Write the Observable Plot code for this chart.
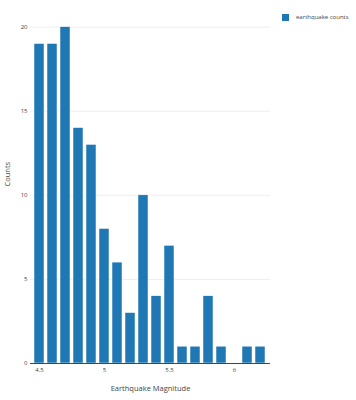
<!DOCTYPE html>
<html>
<head>
<meta charset="utf-8">
<script src="https://cdn.jsdelivr.net/npm/d3@7"></script>
<script src="https://cdn.jsdelivr.net/npm/@observablehq/plot@0.6"></script>
<style>
  html, body { margin: 0; padding: 0; background: #fff; }
  #wrap { position: relative; width: 356px; height: 400px; font-family: "Open Sans", sans-serif; }
  #legend { position: absolute; left: 282px; top: 13px; display: flex; align-items: center; font-size: 6px; color: #444; }
  #legend .sw { width: 7px; height: 7px; background: #1f77b4; margin-right: 7px; }
</style>
</head>
<body>
<div id="wrap">
  <div id="chart"></div>
  <div id="legend"><div class="sw"></div><span>earthquake counts</span></div>
</div>
<script>
const magnitudes = [4.5, 4.6, 4.7, 4.8, 4.9, 5.0, 5.1, 5.2, 5.3, 5.4, 5.5, 5.6, 5.7, 5.8, 5.9, 6.0, 6.1, 6.2];
const counts = [19, 19, 20, 14, 13, 8, 6, 3, 10, 4, 7, 1, 1, 4, 1, 0, 1, 1];
const xTicks = [4.5, 5, 5.5, 6];
const yTicks = [0, 5, 10, 15, 20];
const seriesName = "earthquake counts";

const data = magnitudes.map((m, i) => ({magnitude: m, count: counts[i], series: seriesName}));

const chart = Plot.plot({
  width: 356,
  height: 400,
  marginLeft: 30,
  marginRight: 86,
  marginTop: 9,
  marginBottom: 37,
  style: {fontFamily: "'Open Sans', sans-serif", color: "#444", background: "#fff"},
  x: {
    type: "band",
    domain: magnitudes,
    paddingInner: 0.2,
    paddingOuter: 0.1,
    ticks: xTicks,
    tickFormat: d => String(d),
    tickSize: 0,
    tickPadding: 4,
    label: null
  },
  y: {
    domain: [0, 21.05],
    ticks: yTicks,
    tickSize: 0,
    tickPadding: 3,
    label: null
  },
  marks: [
    Plot.gridY(yTicks.filter(d => d > 0), {stroke: "#eee", strokeOpacity: 1}),
    Plot.barY(data, {x: "magnitude", y: "count", fill: "#1f77b4", stroke: "#fff", strokeWidth: 0.5}),
    Plot.ruleY([0], {stroke: "#444", strokeWidth: 1}),
    Plot.axisX({ticks: xTicks, tickFormat: d => String(d), tickSize: 0, tickPadding: 4, fontSize: 6, fill: "#444", label: null}),
    Plot.axisY({ticks: yTicks, tickSize: 0, tickPadding: 3, fontSize: 6, fill: "#444", label: null}),
    Plot.text(["Earthquake Magnitude"], {frameAnchor: "bottom", dy: 27, fontSize: 7.5, fill: "#444"}),
    Plot.text(["Counts"], {frameAnchor: "left", dx: -23, rotate: -90, fontSize: 7.5, fill: "#444"})
  ]
});
document.getElementById("chart").appendChild(chart);
</script>
</body>
</html>
